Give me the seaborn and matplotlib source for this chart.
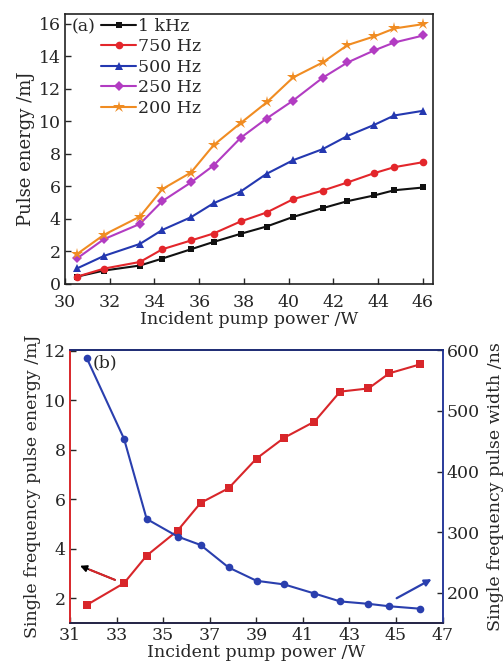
import matplotlib
matplotlib.use("Agg")
import matplotlib.pyplot as plt
import seaborn as sns
import pandas as pd

# ---- data panel (a) ----
power_a = [30.55, 31.74, 33.35, 34.35, 35.63, 36.64, 37.85, 39.01, 40.20, 41.52, 42.63, 43.82, 44.72, 46.02]
e_1khz = [0.45, 0.82, 1.13, 1.56, 2.13, 2.58, 3.08, 3.53, 4.12, 4.66, 5.09, 5.44, 5.76, 5.93]
e_750 = [0.45, 0.94, 1.35, 2.13, 2.67, 3.10, 3.84, 4.39, 5.21, 5.74, 6.24, 6.81, 7.18, 7.49]
e_500 = [0.96, 1.72, 2.46, 3.32, 4.10, 4.96, 5.68, 6.77, 7.61, 8.29, 9.10, 9.78, 10.36, 10.65]
e_250 = [1.58, 2.75, 3.69, 5.09, 6.24, 7.28, 8.98, 10.17, 11.28, 12.68, 13.62, 14.36, 14.85, 15.28]
e_200 = [1.85, 3.02, 4.14, 5.83, 6.85, 8.53, 9.89, 11.16, 12.70, 13.62, 14.69, 15.22, 15.71, 15.98]
labels_a = ["1 kHz", "750 Hz", "500 Hz", "250 Hz", "200 Hz"]
xticks_a = [30, 32, 34, 36, 38, 40, 42, 44, 46]
yticks_a = [0, 2, 4, 6, 8, 10, 12, 14, 16]

# ---- data panel (b) ----
power_b = [31.72, 33.32, 34.29, 35.62, 36.61, 37.81, 39.01, 40.20, 41.50, 42.60, 43.82, 44.71, 46.03]
sf_energy = [1.74, 2.62, 3.73, 4.74, 5.86, 6.45, 7.65, 8.49, 9.14, 10.35, 10.48, 11.09, 11.45]
sf_width = [587, 454, 322, 293, 279, 242, 220, 214, 199, 186, 182, 178, 174]
xticks_b = [31, 33, 35, 37, 39, 41, 43, 45, 47]
yticks_b_left = [2, 4, 6, 8, 10, 12]
yticks_b_right = [200, 300, 400, 500, 600]

sns.set_theme(style="ticks")
plt.rcParams["font.family"] = ["DejaVu Serif"]
plt.rcParams["mathtext.fontset"] = "dejavuserif"

fig = plt.figure(figsize=(5.04, 6.68), dpi=100)
fig.patch.set_facecolor("white")

FS = 12.5

# ---------- panel (a) ----------
ax1 = fig.add_axes([0.129, 0.575, 0.730, 0.404])
colors_a = ["#111111", "#e3262b", "#2438b0", "#b23cc2", "#f08c22"]
markers_a = ["s", "o", "^", "D", "*"]
msizes = [5, 5.5, 6, 5.5, 9]
series = [e_1khz, e_750, e_500, e_250, e_200]
df_a = pd.DataFrame({
    "power": power_a * len(series),
    "energy": sum(series, []),
    "rate": sum([[l] * len(power_a) for l in labels_a], []),
})
for lab, col, mk, ms in zip(labels_a, colors_a, markers_a, msizes):
    sub = df_a[df_a["rate"] == lab]
    sns.lineplot(data=sub, x="power", y="energy", ax=ax1, color=col, marker=mk,
                 markersize=ms, markeredgewidth=0, linewidth=1.5, label=lab)
ax1.set_xlim(30, 46.45)
ax1.set_ylim(0, 16.6)
ax1.set_xticks(xticks_a)
ax1.set_yticks(yticks_a)
ax1.tick_params(direction="in", labelsize=FS, length=4, width=1, pad=3)
ax1.tick_params(axis="x", pad=7)
ax1.set_xlabel("Incident pump power /W", fontsize=FS, labelpad=0)
ax1.set_ylabel("Pulse energy /mJ", fontsize=FS + 0.5, labelpad=3)
for s in ax1.spines.values():
    s.set_linewidth(1.2)
    s.set_color("#222222")
leg = ax1.legend(loc="upper left", bbox_to_anchor=(0.07, 1.025), frameon=False,
                 fontsize=FS, handlelength=2.0, handletextpad=0.1, labelspacing=0.2,
                 borderaxespad=0.2)
ax1.text(0.018, 0.985, "(a)", transform=ax1.transAxes, fontsize=FS, va="top", ha="left")

# ---------- panel (b) ----------
red = "#d8262a"
blue = "#2a3fae"
ax2 = fig.add_axes([0.139, 0.067, 0.739, 0.409])
df_b = pd.DataFrame({"power": power_b, "energy": sf_energy, "width": sf_width})
sns.lineplot(data=df_b, x="power", y="energy", ax=ax2, color=red, marker="s",
             markersize=5.5, markeredgewidth=0, linewidth=1.5)
ax2.set_xlim(31, 47)
ax2.set_ylim(1, 12.03)
ax2.set_xticks(xticks_b)
ax2.set_yticks(yticks_b_left)
ax2.tick_params(direction="in", labelsize=FS, length=4, width=1, pad=3)
ax2.tick_params(axis="x", pad=3)
ax2.set_xlabel("Incident pump power /W", fontsize=FS, labelpad=0)
ax2.set_ylabel("Single frequency pulse energy /mJ", fontsize=FS, labelpad=2)

ax3 = ax2.twinx()
sns.lineplot(data=df_b, x="power", y="width", ax=ax3, color=blue, marker="o",
             markersize=5.5, markeredgewidth=0, linewidth=1.5)
ax3.set_ylim(150, 600.5)
ax3.set_yticks(yticks_b_right)
ax3.tick_params(direction="in", labelsize=FS, length=4, width=1, pad=3)
ax3.set_ylabel("Single frequency pulse width /ns", fontsize=FS, labelpad=5)

for s in ax2.spines.values():
    s.set_linewidth(1.2)
ax2.spines["left"].set_color(red)
ax2.spines["bottom"].set_color("#222244")
ax3.spines["left"].set_color(red)
ax3.spines["right"].set_color(blue)
ax3.spines["top"].set_color("#1a2a80")
ax3.spines["bottom"].set_color("#222244")
for s in ax3.spines.values():
    s.set_linewidth(1.2)

ax2.text(0.06, 0.985, "(b)", transform=ax2.transAxes, fontsize=FS, va="top", ha="left")

# arrows (in left-axis data coordinates)
ax2.annotate("", xy=(31.43, 3.32), xytext=(32.93, 2.75),
             arrowprops=dict(arrowstyle="-|>", color="black", lw=1.2, mutation_scale=10,
                             shrinkA=0, shrinkB=0))
ax2.annotate("", xy=(32.93, 2.75), xytext=(31.85, 3.16),
             arrowprops=dict(arrowstyle="-", color=red, lw=1.5, shrinkA=0, shrinkB=0))
ax2.annotate("", xy=(46.53, 2.78), xytext=(45.03, 2.01),
             arrowprops=dict(arrowstyle="-|>", color=blue, lw=1.6, mutation_scale=10,
                             shrinkA=0, shrinkB=0))

fig.savefig("out.png", dpi=100, facecolor="white")
